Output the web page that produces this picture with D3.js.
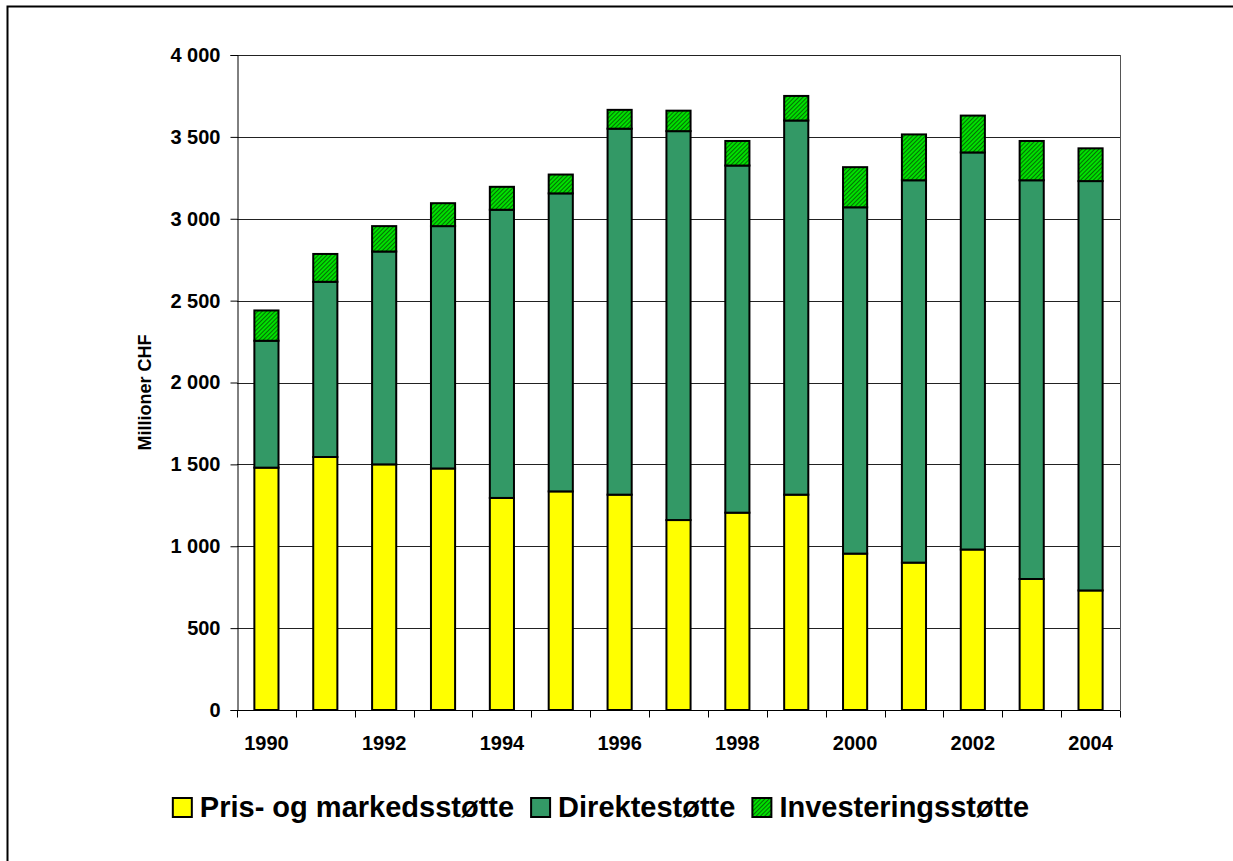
<!DOCTYPE html>
<html>
<head>
<meta charset="utf-8">
<script src="https://cdn.jsdelivr.net/npm/d3@7"></script>
<style>
  body { margin: 0; background: #fff; }
  svg { display: block; font-family: "Liberation Sans", Arial, sans-serif; font-weight: bold; }
</style>
</head>
<body>
<svg id="chart" width="1233" height="861"></svg>
<script>
var years = ["1990","1991","1992","1993","1994","1995","1996","1997","1998","1999","2000","2001","2002","2003","2004"];
var prisStotte = [1480,1545,1500,1475,1295,1335,1315,1160,1205,1315,955,900,980,800,730];
var direkteStotte = [775,1070,1300,1480,1760,1820,2235,2375,2120,2285,2115,2335,2425,2435,2500];
var investStotte = [185,170,155,140,140,115,115,125,150,150,245,280,225,240,200];
var seriesNames = ["Pris- og markedsstøtte", "Direktestøtte", "Investeringsstøtte"];
var yTicks = [0,500,1000,1500,2000,2500,3000,3500,4000];

var svg = d3.select("#chart");
var plotLeft = 237, plotRight = 1120, plotTop = 55, plotBottom = 710;

// hatch pattern for the third series
var defs = svg.append("defs");
var pat = defs.append("pattern")
    .attr("id", "hatch")
    .attr("patternUnits", "userSpaceOnUse")
    .attr("width", 3).attr("height", 3)
    .attr("patternTransform", "rotate(45)");
pat.append("rect").attr("width", 3).attr("height", 3).attr("fill", "#00e000");
pat.append("line").attr("x1", 0).attr("y1", 0).attr("x2", 0).attr("y2", 3)
    .attr("stroke", "#063006").attr("stroke-width", 1.3);

// outer frame
svg.append("rect").attr("x", 7.5).attr("y", 6.5).attr("width", 1240).attr("height", 900)
    .attr("fill", "none").attr("stroke", "#000").attr("stroke-width", 2);

var x = d3.scaleBand().domain(years).range([plotLeft, plotRight]).paddingInner(0.59).paddingOuter(0.295);
var xTicks = d3.scaleBand().domain(years).range([plotLeft, plotRight]);
var y = d3.scaleLinear().domain([0, 4000]).range([plotBottom, plotTop]);

// gridlines
svg.append("g").selectAll("line").data(yTicks.filter(function(d) { return d > 0; }))
    .enter().append("line")
    .attr("x1", plotLeft).attr("x2", plotRight)
    .attr("y1", function(d) { return Math.round(y(d)) + 0.5; })
    .attr("y2", function(d) { return Math.round(y(d)) + 0.5; })
    .attr("stroke", "#222").attr("stroke-width", 1);

// right border of plot area
svg.append("line").attr("x1", plotRight + 0.5).attr("x2", plotRight + 0.5)
    .attr("y1", plotTop).attr("y2", plotBottom)
    .attr("stroke", "#555").attr("stroke-width", 1);

// stacked bars
var rows = years.map(function(yr, i) {
    return { year: yr, a: prisStotte[i], b: direkteStotte[i], c: investStotte[i] };
});
var stack = d3.stack().keys(["a", "b", "c"]);
var fills = ["#ffff00", "#339966", "url(#hatch)"];
var layers = stack(rows);

svg.append("g").selectAll("g").data(layers).enter().append("g")
    .attr("fill", function(d, i) { return fills[i]; })
    .selectAll("rect").data(function(d) { return d; }).enter().append("rect")
    .attr("x", function(d) { return x(d.data.year); })
    .attr("width", x.bandwidth())
    .attr("y", function(d) { return y(d[1]); })
    .attr("height", function(d) { return y(d[0]) - y(d[1]); })
    .attr("stroke", "#000").attr("stroke-width", 2);

// y axis
var yAxis = d3.axisLeft(y).tickValues(yTicks).tickSize(7).tickPadding(10)
    .tickFormat(function(d) { return d3.format(",")(d).replace(",", " "); });
var gy = svg.append("g").attr("transform", "translate(" + (plotLeft + 0.5) + ",0)").call(yAxis);
gy.select(".domain").attr("stroke", "#000");
gy.selectAll(".tick line").attr("stroke", "#000");
gy.selectAll("text").attr("font-size", 20).attr("font-weight", "bold").attr("fill", "#000")
    .attr("font-family", "Liberation Sans, Arial, sans-serif");

// x axis: ticks at category boundaries
var gx = svg.append("g").attr("transform", "translate(0," + (plotBottom + 0.5) + ")");
gx.append("line").attr("x1", plotLeft).attr("x2", plotRight).attr("stroke", "#000");
gx.selectAll("line.t").data(years.concat(["end"])).enter().append("line").attr("class", "t")
    .attr("x1", function(d, i) { return Math.round(i < years.length ? xTicks(d) : plotRight) + 0.5; })
    .attr("x2", function(d, i) { return Math.round(i < years.length ? xTicks(d) : plotRight) + 0.5; })
    .attr("y1", 0).attr("y2", 7).attr("stroke", "#000");
gx.selectAll("text").data(years.filter(function(d, i) { return i % 2 === 0; })).enter().append("text")
    .attr("x", function(d) { return xTicks(d) + xTicks.bandwidth() / 2; })
    .attr("y", 39)
    .attr("text-anchor", "middle").attr("font-size", 20)
    .text(function(d) { return d; });

// y axis title
svg.append("text")
    .attr("transform", "translate(151," + ((plotTop + plotBottom) / 2 + 10) + ") rotate(-90)")
    .attr("text-anchor", "middle").attr("font-size", 18)
    .text("Millioner CHF");

// legend
var legend = svg.append("g");
var items = legend.selectAll("g").data(seriesNames).enter().append("g");
items.append("rect").attr("width", 19).attr("height", 19)
    .attr("fill", function(d, i) { return fills[i]; })
    .attr("stroke", "#000").attr("stroke-width", 2);
items.append("text").attr("x", 27).attr("y", 19).attr("font-size", 29)
    .text(function(d) { return d; });
var pos = 0, positions = [];
items.each(function() {
    var w = this.querySelector("text").getComputedTextLength() + 27;
    positions.push(pos);
    pos += w + 17;
});
var total = pos - 17;
var start = 601 - total / 2;
items.attr("transform", function(d, i) { return "translate(" + (start + positions[i]) + ",798)"; });
</script>
</body>
</html>
